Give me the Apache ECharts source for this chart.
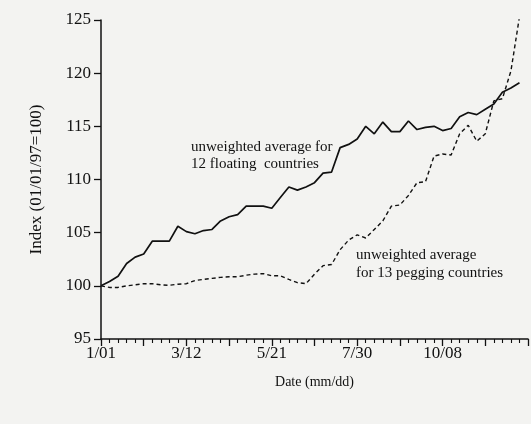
<!DOCTYPE html>
<html>
<head>
<meta charset="utf-8">
<script src="https://cdn.jsdelivr.net/npm/echarts@6/dist/echarts.min.js"></script>
<style>
html,body{margin:0;padding:0;background:#f3f3f1;}
#chart{width:531px;height:424px;}
</style>
</head>
<body>
<div id="chart"></div>
<script>
// Day offsets from 1/01 for the weekly observations
const weekDays = Array.from({length: 50}, (_, i) => i * 7);

// Tick labels (day offset -> label)
const xTickDays = [0, 70, 140, 210, 280];
const xTickLabels = ['1/01', '3/12', '5/21', '7/30', '10/08'];

// Unweighted average for 12 floating countries
const floating = [
  100.0, 100.4, 100.9, 102.1, 102.7, 103.0, 104.2, 104.2, 104.2, 105.6,
  105.1, 104.9, 105.2, 105.3, 106.1, 106.5, 106.7, 107.5, 107.5, 107.5,
  107.3, 108.3, 109.3, 109.0, 109.3, 109.7, 110.6, 110.7, 113.0, 113.3,
  113.8, 115.0, 114.3, 115.4, 114.5, 114.5, 115.5, 114.7, 114.9, 115.0,
  114.6, 114.8, 115.9, 116.3, 116.1, 116.6, 117.1, 118.2, 118.6, 119.1
];

// Unweighted average for 13 pegging countries
const pegging = [
  100.0, 99.85, 99.85, 100.0, 100.1, 100.2, 100.2, 100.1, 100.05, 100.15,
  100.2, 100.5, 100.6, 100.7, 100.8, 100.85, 100.85, 101.0, 101.1, 101.15,
  100.95, 100.95, 100.6, 100.3, 100.2, 101.1, 101.9, 102.0, 103.4, 104.3,
  104.8, 104.5, 105.3, 106.1, 107.5, 107.6, 108.5, 109.7, 109.8, 112.2,
  112.4, 112.3, 114.3, 115.1, 113.6, 114.3, 117.4, 117.6, 120.2, 125.3
];

const serif = '"Liberation Serif", "DejaVu Serif", serif';
const chart = echarts.init(document.getElementById('chart'));
chart.setOption({
  backgroundColor: '#f3f3f1',
  animation: false,
  grid: {left: 101, right: -9, top: 20, bottom: 85, containLabel: false},
  xAxis: {
    type: 'value', min: 0, max: 350, interval: 35,
    name: 'Date (mm/dd)', nameLocation: 'middle', nameGap: 36,
    nameTextStyle: {fontFamily: serif, fontSize: 14, color: '#111'},
    axisLine: {show: true, onZero: false, lineStyle: {color: '#111', width: 1.5}},
    axisTick: {show: true, length: 7, lineStyle: {color: '#111', width: 1.3}},
    minorTick: {show: true, splitNumber: 5, length: 4, lineStyle: {color: '#111', width: 1.1}},
    splitLine: {show: false},
    minorSplitLine: {show: false},
    axisLabel: {
      fontFamily: serif, fontSize: 17, color: '#111', margin: 6,
      formatter: v => { const i = xTickDays.indexOf(v); return i >= 0 ? xTickLabels[i] : ''; }
    }
  },
  yAxis: {
    type: 'value', min: 95, max: 125, interval: 5,
    name: 'Index (01/01/97=100)', nameLocation: 'middle', nameGap: 56,
    nameTextStyle: {fontFamily: serif, fontSize: 17, color: '#111'},
    axisLine: {show: true, lineStyle: {color: '#111', width: 1.5}},
    axisTick: {show: true, length: 7, lineStyle: {color: '#111', width: 1.3}},
    splitLine: {show: false},
    axisLabel: {fontFamily: serif, fontSize: 17, color: '#111', margin: 10}
  },
  series: [
    {
      type: 'line', name: 'floating', symbol: 'none', clip: true,
      data: weekDays.map((d, i) => [d, floating[i]]),
      lineStyle: {color: '#111', width: 1.7, type: 'solid'}
    },
    {
      type: 'line', name: 'pegging', symbol: 'none', clip: true,
      data: weekDays.map((d, i) => [d, pegging[i]]),
      lineStyle: {color: '#111', width: 1.4, type: [4, 3]}
    }
  ],
  graphic: [
    {type: 'text', left: 191, top: 139, style: {text: 'unweighted average for\n12 floating  countries', font: '15px ' + serif, fill: '#111', lineHeight: 17}},
    {type: 'text', left: 356, top: 246, style: {text: 'unweighted average\nfor 13 pegging countries', font: '15px ' + serif, fill: '#111', lineHeight: 18}}
  ]
});
</script>
</body>
</html>
